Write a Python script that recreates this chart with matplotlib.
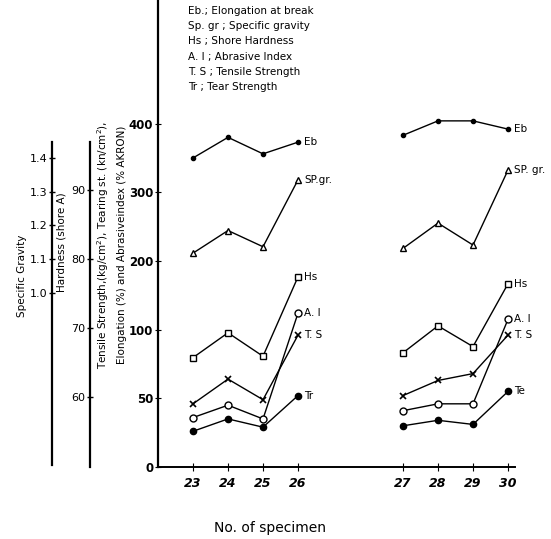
import numpy as np
import matplotlib.pyplot as plt

# specimen numbers, two groups
specimens_a = [23, 24, 25, 26]
specimens_b = [27, 28, 29, 30]

# Eb, A.I, T.S, Tr on the main axis
eb_a = [350, 380, 356, 373]
eb_b = [383, 404, 404, 392]
ai_a = [36, 45, 35, 124]
ai_b = [41, 46, 46, 115]
ts_a = [46, 64, 49, 96]
ts_b = [52, 63, 68, 96]
tr_a = [26, 35, 29, 52]
tr_b = [30, 34, 31, 55]

# specific gravity and shore hardness on their own axes
sg_a = [1.118, 1.185, 1.137, 1.335]
sg_b = [1.132, 1.207, 1.142, 1.364]
hs_a = [65.7, 69.3, 65.9, 77.4]
hs_b = [66.4, 70.3, 67.3, 76.4]

main_ticks = [0, 50, 100, 200, 300, 400]
sg_ticks = [1.0, 1.1, 1.2, 1.3, 1.4]
hs_ticks = [60, 70, 80, 90]

legend_lines = [
    "Eb.; Elongation at break",
    "Sp. gr ; Specific gravity",
    "Hs ; Shore Hardness",
    "A. I ; Abrasive Index",
    "T. S ; Tensile Strength",
    "Tr ; Tear Strength",
]

W, H = 551, 539
GAP = 2  # blank room between the two groups


def px(x, y):
    return x / W, 1 - y / H


# main axis: 0-100 drawn at double scale, above 100 at single scale
def fwd(v):
    v = np.asarray(v, dtype=float)
    return np.where(v <= 100, 2 * v, v + 100)


def inv(f):
    f = np.asarray(f, dtype=float)
    return np.where(f <= 200, f / 2, f - 100)


fig = plt.figure(figsize=(W / 100, H / 100), dpi=100)
ax = fig.add_axes([158 / W, (H - 467) / H, 357 / W, 467 / H])
ax.set_yscale('function', functions=(fwd, inv))
ax.set_ylim(0, 580)
ax.set_xlim(22, 32.2)

xa = np.array(specimens_a)
xb = np.array(specimens_b) + GAP

# secondary axes drawn on the left
ax_sg = ax.twinx()
ax_hs = ax.twinx()
ax_sg.set_ylim(0.4844, 1.868)
ax_hs.set_ylim(49.86, 117.5)
for a, pos, top, bot, ticks, fmt in [
        (ax_sg, -0.297, 1.447, 0.49, sg_ticks, '{:.1f}'),
        (ax_hs, -0.190, 96.9, 49.9, hs_ticks, '{:d}')]:
    for s in ['top', 'right', 'bottom']:
        a.spines[s].set_visible(False)
    a.spines['left'].set_visible(True)
    a.spines['left'].set_position(('axes', pos))
    a.spines['left'].set_bounds(bot, top)
    a.spines['left'].set_linewidth(1.6)
    a.yaxis.set_ticks_position('left')
    a.yaxis.set_label_position('left')
    a.set_yticks(ticks)
    a.set_yticklabels([fmt.format(t) for t in ticks])
    a.tick_params(axis='y', direction='inout', length=5, width=1, labelsize=8, pad=1)

ax.spines['top'].set_visible(False)
ax.spines['right'].set_visible(False)
ax.spines['left'].set_linewidth(1.6)
ax.spines['bottom'].set_linewidth(1.4)
ax.set_yticks(main_ticks)
ax.set_yticklabels([str(t) for t in main_ticks], fontweight='bold')
ax.yaxis.set_minor_locator(plt.NullLocator())
ax.tick_params(axis='y', direction='inout', length=5, labelsize=8.5, pad=1)
ax.set_xticks(list(xa) + list(xb))
ax.set_xticklabels([str(s) for s in specimens_a + specimens_b],
                   fontweight='bold', fontstyle='italic')
ax.tick_params(axis='x', direction='inout', length=6, labelsize=9, pad=4)

series = [
    (ax, eb_a, eb_b, dict(marker='o', ms=3, mfc='black'), ('Eb', 'Eb')),
    (ax_sg, sg_a, sg_b, dict(marker='^', ms=5, mfc='white'), ('SP.gr.', 'SP. gr.')),
    (ax_hs, hs_a, hs_b, dict(marker='s', ms=4.5, mfc='white'), ('Hs', 'Hs')),
    (ax, ai_a, ai_b, dict(marker='o', ms=5, mfc='white'), ('A. I', 'A. I')),
    (ax, ts_a, ts_b, dict(marker='x', ms=5, mew=1.2), ('T. S', 'T. S')),
    (ax, tr_a, tr_b, dict(marker='o', ms=4.5, mfc='black'), ('Tr', 'Te')),
]
for a, ya, yb, mk, labels in series:
    for x, y, lab in [(xa, ya, labels[0]), (xb, yb, labels[1])]:
        a.plot(x, y, color='black', lw=1.0, mec='black', clip_on=False, **mk)
        a.text(x[-1] + 0.18, y[-1], lab, fontsize=7.5, va='center', ha='left')

# axis titles
fig.text(*px(22, 276), "Specific Gravity", rotation=90, ha='center', va='center', fontsize=7.5)
fig.text(*px(62, 242), "Hardness (shore A)", rotation=90, ha='center', va='center', fontsize=7.5)
fig.text(*px(103, 245), "Tensile Strength,(kg/cm$^2$), Tearing st. (kn/cm$^2$),",
         rotation=90, ha='center', va='center', fontsize=7.5)
fig.text(*px(122, 245), "Elongation (%) and Abrasiveindex (% AKRON)",
         rotation=90, ha='center', va='center', fontsize=7.5)

for i, line in enumerate(legend_lines):
    fig.text(*px(188, 11 + i * 15.2), line, fontsize=7.5, ha='left', va='center')

fig.text(*px(270, 528), "No. of specimen", fontsize=10, ha='center', va='center')

fig.savefig('out.png', dpi=100)
